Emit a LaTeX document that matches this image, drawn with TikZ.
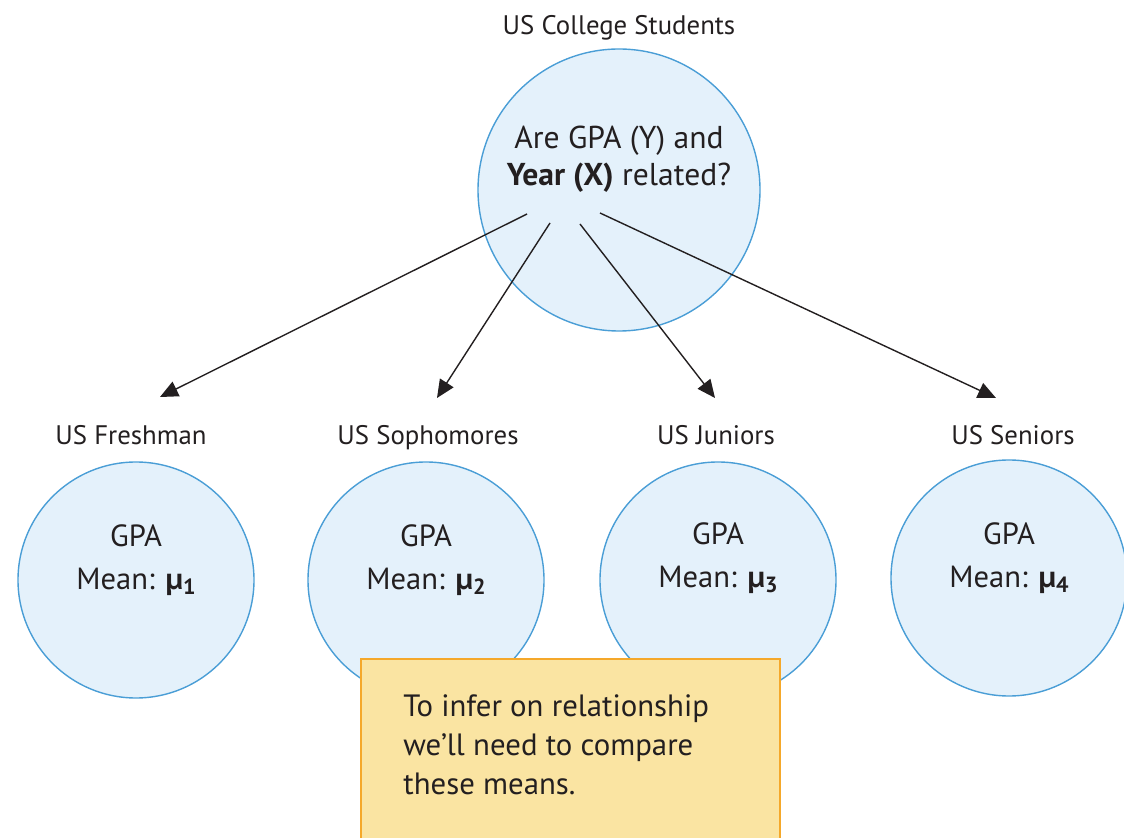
\documentclass[tikz,border=0pt]{standalone}
\usepackage{fontspec}
\setmainfont{PT Sans}
\usetikzlibrary{arrows.meta}
\definecolor{circfill}{HTML}{E4F1FB}
\definecolor{circline}{HTML}{4A9ED6}
\definecolor{notefill}{HTML}{FAE4A2}
\definecolor{noteline}{HTML}{F5A82A}
\definecolor{ink}{HTML}{231F20}
\tikzset{
  popcircle/.style={circle, draw=circline, fill=circfill, line width=0.7pt, minimum size=118pt, inner sep=0pt},
  bigcircle/.style={popcircle, minimum size=141pt},
  label text/.style={text=ink, font=\fontsize{13.4}{15}\selectfont, inner sep=0pt, anchor=base},
  circle text/.style={text=ink, font=\fontsize{15.3}{21.5}\selectfont, align=center, inner sep=0pt},
  arrowline/.style={draw=ink, line width=0.7pt, -{Triangle[length=9pt,width=8pt]}},
  notebox/.style={draw=noteline, fill=notefill, line width=0.8pt}
}
\newcommand{\meanmu}[1]{Mean: \textbf{µ\raisebox{-0.35ex}{\fontsize{11}{11}\selectfont #1}}}
\begin{document}
\begin{tikzpicture}[x=0.5pt,y=-0.5pt]
\useasboundingbox (0,0) rectangle (1124,838);
\clip (0,0) rectangle (1124,838);
% top
\node[label text] (toplbl) at (619,35) {US College Students};
\node[bigcircle] (top) at (619,190) {};
\node[circle text, font=\fontsize{15.8}{18.5}\selectfont] (toptxt) at (619,159) {Are GPA (Y) and\\\textbf{Year (X)} related?};
% bottom circles
\node[popcircle] (c1) at (136,580) {};
\node[popcircle] (c2) at (426,580) {};
\node[popcircle] (c3) at (718,580) {};
\node[popcircle] (c4) at (1009,578) {};
\node[label text] (l1) at (131,445) {US Freshman};
\node[label text] (l2) at (428,445) {US Sophomores};
\node[label text] (l3) at (716,445) {US Juniors};
\node[label text] (l4) at (1013,445) {US Seniors};
\node[circle text] (t1) at (136,560) {GPA\\\meanmu{1}};
\node[circle text] (t2) at (426,560) {GPA\\\meanmu{2}};
\node[circle text] (t3) at (718,558) {GPA\\\meanmu{3}};
\node[circle text] (t4) at (1009,558) {GPA\\\meanmu{4}};
% arrows
\coordinate (s1) at (527,214);
\coordinate (s2) at (550,223);
\coordinate (s3) at (580,224);
\coordinate (s4) at (600,213);
\coordinate (e1) at (160,397);
\coordinate (e2) at (437,398);
\coordinate (e3) at (715,398);
\coordinate (e4) at (996,398);
\draw[arrowline] (s1) -- (e1);
\draw[arrowline] (s2) -- (e2);
\draw[arrowline] (s3) -- (e3);
\draw[arrowline] (s4) -- (e4);
% note
\node[notebox, anchor=north west, minimum width=209.5pt, minimum height=110pt] (note) at (360,658) {};
\node[anchor=north west, text=ink, align=left, inner sep=0pt, font=\fontsize{15.4}{19.5}\selectfont] (notetxt) at (403,694) {To infer on relationship\\we’ll need to compare\\these means.};
\end{tikzpicture}
\end{document}
